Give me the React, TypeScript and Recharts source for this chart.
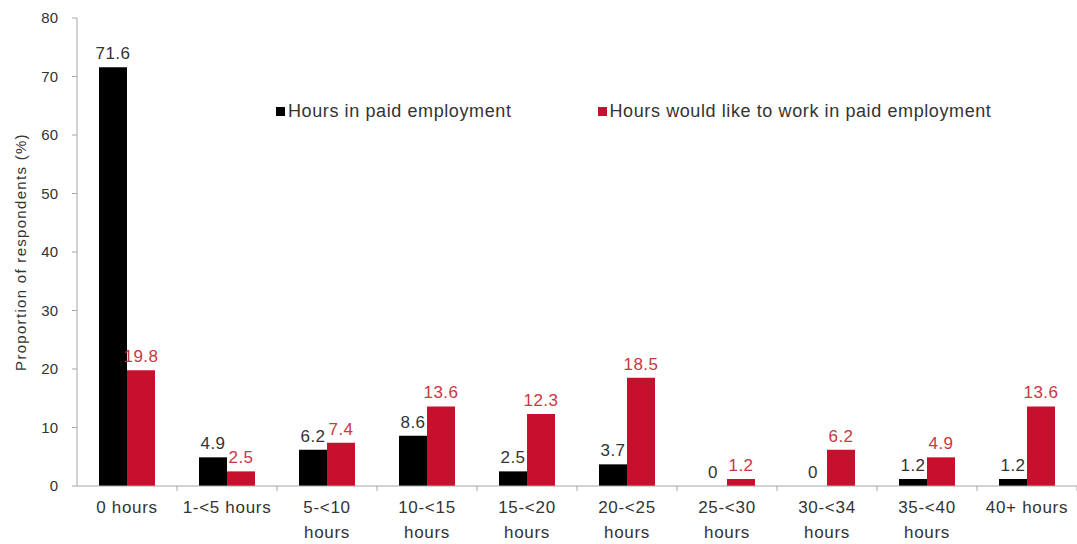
import { BarChart, Bar, XAxis, YAxis, Legend, LabelList } from 'recharts';

const categories = [
  '0 hours',
  '1-<5 hours',
  '5-<10\nhours',
  '10-<15\nhours',
  '15-<20\nhours',
  '20-<25\nhours',
  '25-<30\nhours',
  '30-<34\nhours',
  '35-<40\nhours',
  '40+ hours',
];
const paidHours = [71.6, 4.9, 6.2, 8.6, 2.5, 3.7, 0, 0, 1.2, 1.2];
const desiredHours = [19.8, 2.5, 7.4, 13.6, 12.3, 18.5, 1.2, 6.2, 4.9, 13.6];
const yTicks = [0, 10, 20, 30, 40, 50, 60, 70, 80];

const data = categories.map((category, i) => ({
  category,
  paid: paidHours[i],
  desired: desiredHours[i],
}));

const FONT = '"Liberation Sans", Arial, sans-serif';
const AXIS_COLOR = '#a6a6a6';
const RED = '#c8102e';

// keeps zero values visible as "0" labels
const asText = (v: any) => String(v);

function CategoryTick(props: any) {
  const { x, y, payload } = props;
  const half = payload?.offset ?? 50;
  const axisY = y - 5;
  const lines = String(payload.value).split('\n');
  return (
    <g>
      <line x1={x + half} x2={x + half} y1={axisY} y2={axisY + 5} stroke={AXIS_COLOR} />
      <text
        x={x}
        y={y}
        textAnchor="middle"
        fill="#333"
        fontFamily={FONT}
        fontSize={17}
        letterSpacing={0.7}
      >
        {lines.map((line, i) => (
          <tspan key={i} x={x} dy={i === 0 ? 22 : 25}>
            {line}
          </tspan>
        ))}
      </text>
    </g>
  );
}

function LegendContent({ payload }: any) {
  return (
    <div
      style={{
        display: 'flex',
        gap: 86,
        fontFamily: FONT,
        fontSize: 18,
        letterSpacing: 0.6,
        color: '#333',
        whiteSpace: 'nowrap',
      }}
    >
      {(payload || []).map((entry: any) => (
        <span key={entry.value} style={{ display: 'flex', alignItems: 'center' }}>
          <span
            style={{
              display: 'inline-block',
              width: 9,
              height: 9,
              background: entry.color,
              marginRight: 3,
            }}
          />
          {entry.value}
        </span>
      ))}
    </div>
  );
}

export default function App() {
  return (
    <div style={{ position: 'absolute', left: 0, top: 0, background: '#fff' }}>
      <BarChart
        width={1077}
        height={544}
        data={data}
        margin={{ top: 18, right: 0, left: 0, bottom: 0 }}
        barSize={28}
        barGap={0}
      >
        <XAxis
          dataKey="category"
          interval={0}
          height={58}
          tickLine={false}
          tickSize={5}
          tickMargin={0}
          axisLine={{ stroke: AXIS_COLOR }}
          tick={<CategoryTick />}
        />
        <YAxis
          width={77}
          domain={[0, 80]}
          ticks={yTicks}
          interval={0}
          tickSize={5}
          tickMargin={14}
          axisLine={{ stroke: AXIS_COLOR }}
          tickLine={{ stroke: AXIS_COLOR }}
          tick={{ fill: '#333', fontSize: 15, fontFamily: FONT }}
          label={{
            value: 'Proportion of respondents (%)',
            angle: -90,
            position: 'insideLeft',
            offset: 21,
            style: {
              textAnchor: 'middle',
              fill: '#333',
              fontSize: 15,
              fontFamily: FONT,
              letterSpacing: 1.3,
            },
          }}
        />
        <Legend
          layout="horizontal"
          align="center"
          verticalAlign="middle"
          wrapperStyle={{ top: 101, left: 276, width: 'auto' }}
          content={<LegendContent />}
        />
        <Bar
          dataKey="paid"
          name="Hours in paid employment"
          fill="#000"
          minPointSize={0.01}
          isAnimationActive={false}
        >
          <LabelList
            dataKey="paid"
            position="top"
            offset={8}
            formatter={asText}
            fill="#333"
            fontSize={17}
            fontFamily={FONT}
            letterSpacing={0.5}
          />
        </Bar>
        <Bar
          dataKey="desired"
          name="Hours would like to work in paid employment"
          fill={RED}
          isAnimationActive={false}
        >
          <LabelList
            dataKey="desired"
            position="top"
            offset={8}
            formatter={asText}
            fill="#cc3540"
            fontSize={17}
            fontFamily={FONT}
            letterSpacing={0.5}
          />
        </Bar>
      </BarChart>
    </div>
  );
}
